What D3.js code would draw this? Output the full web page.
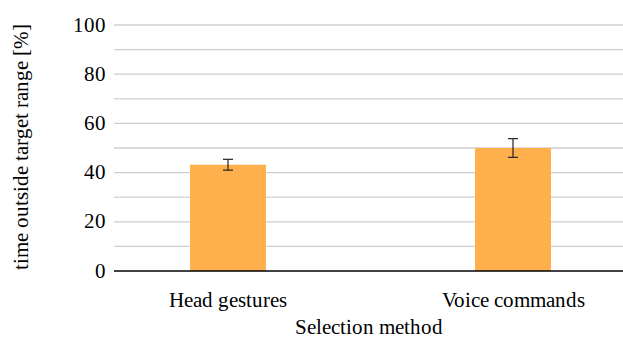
<!DOCTYPE html>
<html><head><meta charset="utf-8">
<script src="https://cdn.jsdelivr.net/npm/d3@7"></script>
<style>
@font-face{font-family:"ChartSerif";src:local("Liberation Serif"),local("LiberationSerif"),local("LiberationSerif-Regular");}
body{margin:0;background:#fff}
#wrap{position:relative;width:623px;height:342px;overflow:hidden}
svg{display:block;position:absolute;left:0;top:0}
.lbl{position:absolute;left:0;top:0;white-space:nowrap;font-family:"ChartSerif",'Liberation Serif',serif;font-size:21px;line-height:21px;color:#000;transform-origin:0 0}
</style>
</head><body><div id="wrap"><svg id="c" width="623" height="342"></svg></div>
<script>
const categories = ["Head gestures", "Voice commands"];
const values = [43.2, 50.0];
const errors = [2.2, 3.8];
const yTicks = [0, 20, 40, 60, 80, 100];
const yGrid = [10, 20, 30, 40, 50, 60, 70, 80, 90, 100];

(function () {
const FONT = "ChartSerif, 'Liberation Serif', serif";
const svg = d3.select("#c");
const wrap = d3.select("#wrap");
const mLeft = 114, mRight = 623, mTop = 25, mBottom = 271;
const base = 17.6;
const y = d3.scaleLinear().domain([0, 100]).range([mBottom, mTop]);
const x = d3.scaleBand().domain(categories).range([85.5, 655.5]);
const barW = 76;

svg.append("g").selectAll("line").data(yGrid).join("line")
  .attr("x1", mLeft).attr("x2", mRight)
  .attr("y1", d => y(d)).attr("y2", d => y(d))
  .attr("stroke", "#cfcfcf").attr("stroke-width", 1.3);

const cx = d => x(d) + x.bandwidth() / 2;

svg.append("g").selectAll("rect").data(categories).join("rect")
  .attr("x", d => cx(d) - barW / 2).attr("width", barW)
  .attr("y", (d, i) => y(values[i])).attr("height", (d, i) => y(0) - y(values[i]))
  .attr("fill", "#fdb04b");

svg.append("line").attr("x1", mLeft).attr("x2", mRight)
  .attr("y1", y(0)).attr("y2", y(0)).attr("stroke", "#000").attr("stroke-width", 1.3);

const eb = svg.append("g").attr("stroke", "#222").attr("stroke-width", 1.2);
categories.forEach((c, i) => {
  const xc = cx(c), hi = y(values[i] + errors[i]), lo = y(values[i] - errors[i]);
  eb.append("line").attr("x1", xc).attr("x2", xc).attr("y1", hi).attr("y2", lo);
  eb.append("line").attr("x1", xc - 5).attr("x2", xc + 5).attr("y1", hi).attr("y2", hi);
  eb.append("line").attr("x1", xc - 5).attr("x2", xc + 5).attr("y1", lo).attr("y2", lo);
});

const font = s => s.style("font-family", FONT, "important");

wrap.selectAll("div.yt").data(yTicks).join("div").attr("class", "lbl yt").call(font)
  .style("transform", d => `translate(106px,${y(d)}px) translate(-100%,-50%)`)
  .text(d => d);

wrap.selectAll("div.xt").data(categories).join("div").attr("class", "lbl xt").call(font)
  .style("transform", d => `translate(${cx(d)}px,${308 - base}px) translate(-50%,0)`)
  .text(d => d);

wrap.append("div").attr("class", "lbl").call(font)
  .style("transform", `translate(${(mLeft + mRight) / 2}px,${335 - base}px) translate(-50%,0)`)
  .text("Selection method");

wrap.append("div").attr("class", "lbl").call(font)
  .style("transform", `translate(29px,147px) rotate(-90deg) translate(-50%,-${base}px)`)
  .text("time outside target range [%]");
})();
</script></body></html>
